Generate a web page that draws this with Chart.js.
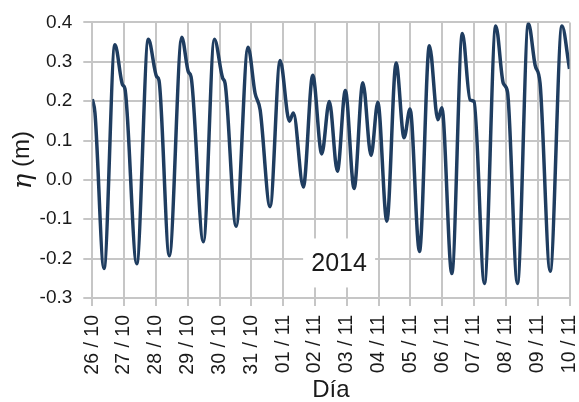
<!DOCTYPE html>
<html>
<head>
<meta charset="utf-8">
<script src="https://cdn.jsdelivr.net/npm/chart.js@4"></script>
<style>
html,body{margin:0;padding:0;background:#fff;}
#wrap{width:579px;height:402px;position:relative;}
</style>
</head>
<body>
<div id="wrap"><canvas id="c" width="579" height="402"></canvas></div>
<script>
// Time in hours since 26/10/2014 00:00
const hours = [0, 2.0, 8.8, 17.1, 22.9, 24.6, 33.5, 42.3, 48.6, 50.3, 58.1, 67.5, 72.5, 74.5, 83.8, 92.1, 98.4, 100.2, 108.5, 117.5, 122.8, 126.6, 134.1, 141.7, 148.7, 151.7, 159.2, 166.3, 173.1, 178.8, 184.9, 190.9, 197.5, 204.1, 210.3, 215.4, 222.2, 229.2, 235.2, 239.7, 246.8, 254.3, 260.7, 263.7, 271.2, 279.2, 285.0, 288.0, 295.8, 304.4, 310.1, 313.2, 320.7, 329.0, 334.1, 337.8, 345.4, 354.3, 360];
// Sea level eta (m)
const eta = [0.205, 0.17, -0.225, 0.343, 0.241, 0.232, -0.213, 0.357, 0.262, 0.253, -0.193, 0.362, 0.274, 0.262, -0.157, 0.357, 0.258, 0.245, -0.118, 0.337, 0.22, 0.178, -0.068, 0.303, 0.149, 0.17, -0.018, 0.266, 0.066, 0.199, 0.022, 0.227, -0.022, 0.247, 0.062, 0.197, -0.105, 0.297, 0.107, 0.18, -0.182, 0.341, 0.153, 0.183, -0.238, 0.372, 0.203, 0.199, -0.263, 0.391, 0.245, 0.224, -0.263, 0.397, 0.291, 0.245, -0.232, 0.391, 0.282];
const dayLabels = ['26 / 10','27 / 10','28 / 10','29 / 10','30 / 10','31 / 10','01 / 11','02 / 11','03 / 11','04 / 11','05 / 11','06 / 11','07 / 11','08 / 11','09 / 11','10 / 11'];
const yearLabel = '2014';
const yTitle = ['η', ' (m)'];
const xTitle = 'Día';

const GRID = '#c6c6c6';
const TXT = '#1a1a1a';
const FONT = "'Liberation Sans', Arial, sans-serif";

const yearBox = {
  id: 'yearBox',
  beforeDatasetsDraw(chart) {
    const xs = chart.scales.x, ys = chart.scales.y;
    const cx = xs.getPixelForValue(186.2), cy = ys.getPixelForValue(-0.211);
    const ctx = chart.ctx;
    ctx.save();
    ctx.fillStyle = '#fff';
    ctx.fillRect(cx - 36, cy - 24.5, 72, 49);
    ctx.fillStyle = TXT;
    ctx.font = '25px ' + FONT;
    ctx.textAlign = 'center';
    ctx.textBaseline = 'middle';
    ctx.fillText(yearLabel, cx, cy + 1);
    ctx.restore();
  }
};

const yTitlePlugin = {
  id: 'yTitlePlugin',
  afterDraw(chart) {
    const ctx = chart.ctx;
    const ca = chart.chartArea;
    const cy = (ca.top + ca.bottom) / 2;
    ctx.save();
    ctx.translate(22, cy);
    ctx.rotate(-Math.PI / 2);
    ctx.fillStyle = TXT;
    ctx.textBaseline = 'middle';
    ctx.font = 'italic 26px ' + "'DejaVu Serif', serif";
    const w1 = ctx.measureText(yTitle[0]).width;
    ctx.font = '24px ' + FONT;
    const w2 = ctx.measureText(yTitle[1]).width;
    let x = -(w1 + w2) / 2;
    ctx.font = 'italic 26px ' + "'DejaVu Serif', serif";
    ctx.textAlign = 'left';
    ctx.fillText(yTitle[0], x, 2);
    ctx.font = '24px ' + FONT;
    ctx.fillText(yTitle[1], x + w1, 0);
    ctx.restore();
  }
};

new Chart(document.getElementById('c'), {
  type: 'line',
  data: {
    datasets: [{
      data: hours.map((h, i) => ({x: h, y: eta[i]})),
      borderColor: '#1f3d60',
      borderWidth: 3.5,
      pointRadius: 0,
      fill: false,
      cubicInterpolationMode: 'monotone'
    }]
  },
  options: {
    responsive: false,
    animation: false,
    layout: {padding: {top: 18, right: 9.5, left: 0, bottom: 0}},
    plugins: {legend: {display: false}, tooltip: {enabled: false}},
    scales: {
      x: {
        type: 'linear', min: 0, max: 360,
        grid: {color: GRID, lineWidth: 2, tickLength: 8, tickColor: GRID},
        border: {color: GRID, width: 2},
        ticks: {
          stepSize: 24, autoSkip: false, maxRotation: 90, minRotation: 90,
          padding: 9, color: TXT, font: {family: FONT, size: 19.5},
          callback: v => dayLabels[Math.round(v / 24)]
        },
        title: {display: true, text: xTitle, color: TXT, font: {family: FONT, size: 24}, padding: {top: 0, bottom: -3}},
        afterFit(s) { s.height = 104; s.paddingLeft = 0; s.paddingRight = 0; }
      },
      y: {
        min: -0.3, max: 0.4,
        grid: {color: GRID, lineWidth: 2, tickLength: 9, tickColor: GRID},
        border: {color: GRID, width: 2},
        ticks: {stepSize: 0.1, padding: 11, color: TXT, font: {family: FONT, size: 19},
          callback: v => v.toFixed(1)},
        afterFit(s) { s.width = 92.3; }
      }
    }
  },
  plugins: [yearBox, yTitlePlugin]
});
</script>
</body>
</html>
